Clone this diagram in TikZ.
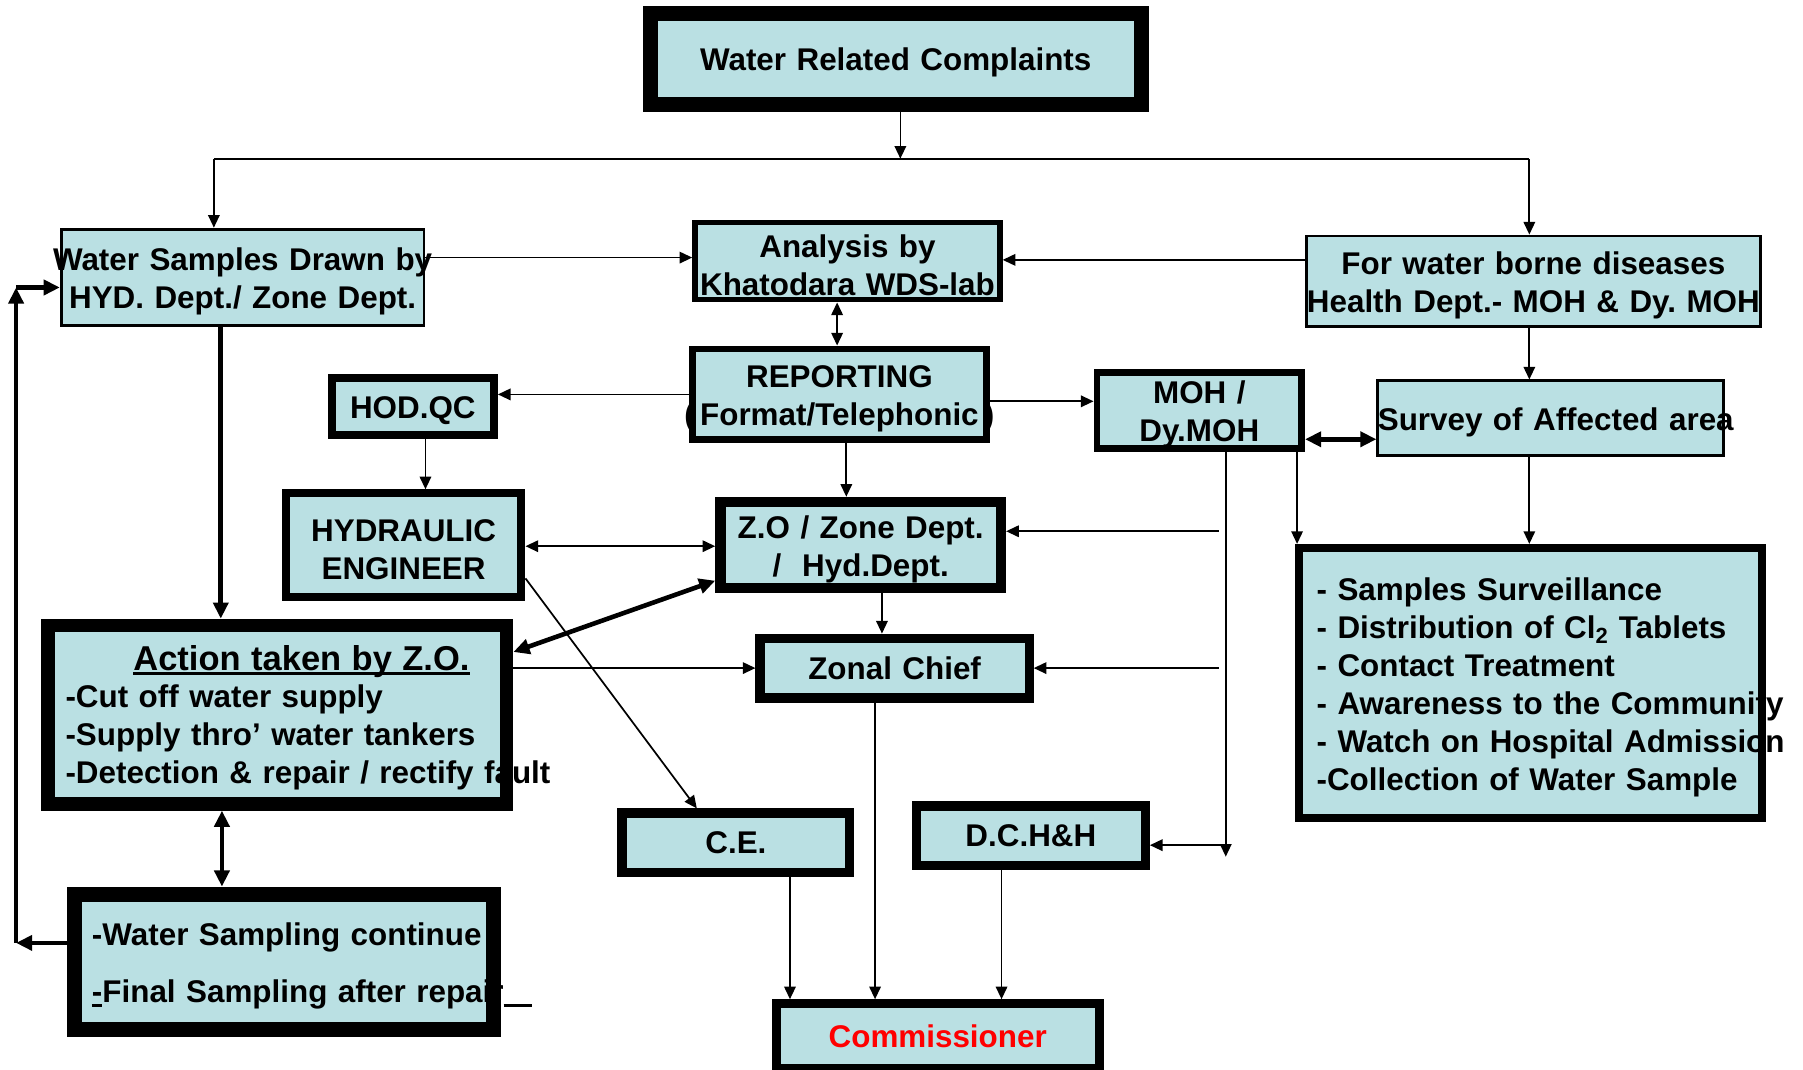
\documentclass[tikz,border=0pt]{standalone}
\usepackage{fontspec}
\setmainfont{Liberation Sans}
\usetikzlibrary{arrows.meta}
\definecolor{boxblue}{RGB}{186,224,227}
\frenchspacing
\newcommand{\regtext}{\fontsize{27.3pt}{33pt}\selectfont\bfseries}
\newcommand{\spill}[1]{\makebox[\hsize][c]{#1}}
\newcommand{\barunder}[1]{\leavevmode\setbox0\hbox{#1}\rlap{\rule[-4pt]{\wd0}{2.5pt}}\box0}
\tikzset{
  flowbase/.style={draw,fill=boxblue,align=center,inner xsep=0pt,inner ysep=0pt,font=\regtext},
  flowbox/.style={flowbase,execute at begin node={\rule{0pt}{27pt}}},
  thinbox/.style={flowbox,line width=2.5pt},
  heavybox/.style={flowbox,line width=#1},
  flatbox/.style={flowbase,line width=#1},
  listbox/.style={align=left,inner xsep=15.5pt},
  flowline/.style={line width=1.5pt},
  flowarrow/.style={-{Triangle[length=11pt,width=10pt]},line width=1.5pt},
  twoway/.style={{Triangle[length=11pt,width=10pt]}-{Triangle[length=11pt,width=10pt]},line width=1.5pt},
  heavyarrow/.style={-{Triangle[length=14pt,width=13pt]},line width=4pt},
  heavytwoway/.style={{Triangle[length=14pt,width=13pt]}-{Triangle[length=14pt,width=13pt]},line width=4pt}
}

\begin{document}
\begin{tikzpicture}[x=1pt,y=-1pt]
\useasboundingbox (0,0) rectangle (1568,930);
% boxes
\node[heavybox=13pt, text width=427pt, minimum height=79pt] (complaints) at (779,51) {Water Related Complaints};
\node[thinbox, text width=315.5pt, minimum height=83.5pt] (samples) at (211,241) {\spill{Water Samples Drawn by}\\HYD. Dept./ Zone Dept.};
\node[heavybox=5pt, text width=265pt, minimum height=67pt] (analysis) at (737,227) {Analysis by\\Khatodara WDS-lab};
\node[thinbox, text width=394.5pt, minimum height=78.5pt] (borne) at (1333.5,244.5) {\mbox{For water borne diseases}\\\spill{Health Dept.- MOH \& Dy. MOH}};
\node[heavybox=6pt, text width=256pt, minimum height=79pt] (reporting) at (730,343) {REPORTING\\\spill{(\,Format/Telephonic\,)}};
\node[heavybox=7pt, text width=141pt, minimum height=50pt] (hodqc) at (359,353.5) {HOD.QC};
\node[heavybox=7pt, text width=205pt, minimum height=90pt] (hydraulic) at (351,474) {HYDRAULIC\\ENGINEER};
\node[heavybox=9pt, text width=244pt, minimum height=75pt] (zone) at (748.5,474) {Z.O / Zone Dept.\\/~~Hyd.Dept.};
\node[heavybox=6pt, text width=178pt, minimum height=62pt] (moh) at (1043,357) {MOH /\\Dy.MOH};
\node[thinbox, text width=300.5pt, minimum height=64.5pt] (survey) at (1348.5,363.5) {\mbox{Survey of Affected area}};
\node[heavybox=12pt, listbox, text width=368pt, minimum height=155pt] (action) at (241,621.5) {\mbox{\hspace*{59pt}\fontsize{30pt}{33pt}\selectfont\barunder{Action taken by Z.O.}}\\\mbox{-Cut off water supply}\\\mbox{-Supply thro’ water tankers}\\\mbox{-Detection \& repair / rectify fault}};
\node[flatbox=8pt, text width=234pt, minimum height=52pt] (zonal) at (778,581) {Zonal Chief};
\node[heavybox=7pt, listbox, text width=372pt, minimum height=235pt] (surveil) at (1331,594) {\mbox{- Samples Surveillance}\\\mbox{- Distribution of Cl\textsubscript{2} Tablets}\\\mbox{- Contact Treatment}\\\mbox{- Awareness to the Community}\\\mbox{- Watch on Hospital Admission}\\\mbox{-Collection of Water Sample}};
\node[flatbox=8pt, text width=198pt, minimum height=52pt] (ce) at (640,733) {C.E.};
\node[flatbox=8pt, text width=199pt, minimum height=52pt] (dchh) at (896.5,727) {D.C.H\&H};
\node[heavybox=13pt, listbox, text width=334pt, minimum height=118pt] (sampling) at (247,836.5) {\mbox{-Water Sampling continue}\\[16pt]\mbox{\barunder{-}Final Sampling after repair\barunder{\hspace*{25pt}}}};
\node[flatbox=8pt, text=red, text width=281pt, minimum height=56pt] (commissioner) at (815.5,901) {Commissioner};
% free ends
\coordinate (busL) at (186,138);
\coordinate (busM) at (783,138);
\coordinate (busR) at (1330,138);
\coordinate (zoneTap) at (1060,462);
\coordinate (zonalTap) at (1060,581);
\coordinate (mohEnd) at (1066,745);
\coordinate (loopB) at (14,820);
\coordinate (loopT) at (14,250);
% connectors
\draw[flowarrow] (complaints.south -| busM) -- (busM);
\draw[flowline] (busL) -- (busR);
\draw[flowarrow] (busL) -- (samples.north -| busL);
\draw[flowarrow] (busR) -- (borne.north -| busR);
\draw[flowarrow] (samples.east |- 0,224) -- (analysis.west |- 0,224);
\draw[flowarrow] (borne.west |- 0,226) -- (analysis.east |- 0,226);
\draw[twoway] (analysis.south -| 728,0) -- (reporting.north -| 728,0);
\draw[flowarrow] (reporting.west |- 0,343) -- (hodqc.east |- 0,343);
\draw[flowarrow] (reporting.east |- 0,349) -- (moh.west |- 0,349);
\draw[flowarrow] (reporting.south -| 736,0) -- (zone.north -| 736,0);
\draw[flowarrow] (hodqc.south -| 370,0) -- (hydraulic.north -| 370,0);
\draw[twoway] (hydraulic.east |- 0,475) -- (zone.west |- 0,475);
\draw[flowarrow] (hydraulic.east |- 0,503) -- (ce.north -| 606,0);
\draw[heavytwoway] (zone.west |- 0,505) -- (action.east |- 0,567);
\draw[heavyarrow] (samples.south -| 192,0) -- (action.north -| 192,0);
\draw[flowarrow] (action.east |- 0,581) -- (zonal.west |- 0,581);
\draw[heavytwoway] (action.south -| 193,0) -- (sampling.north -| 193,0);
\draw[flowarrow] (zone.south -| 767,0) -- (zonal.north -| 767,0);
\draw[flowarrow] (zonal.south -| 761,0) -- (commissioner.north -| 761,0);
\draw[flowarrow] (ce.south -| 687,0) -- (commissioner.north -| 687,0);
\draw[flowarrow] (dchh.south -| 871,0) -- (commissioner.north -| 871,0);
\draw[flowarrow] (zoneTap) -- (zone.east |- zoneTap);
\draw[flowarrow] (zonalTap) -- (zonal.east |- zonalTap);
\draw[flowarrow] (moh.south -| mohEnd) -- (mohEnd);
\draw[flowarrow] (mohEnd |- 0,735) -- (dchh.east |- 0,735);
\draw[flowarrow] (moh.south -| 1128,0) -- (surveil.north -| 1128,0);
\draw[heavytwoway] (moh.east |- 0,382) -- (survey.west |- 0,382);
\draw[flowarrow] (borne.south -| 1330,0) -- (survey.north -| 1330,0);
\draw[flowarrow] (survey.south -| 1330,0) -- (surveil.north -| 1330,0);
\draw[heavyarrow] (sampling.west |- loopB) -- (loopB);
\draw[heavyarrow] (loopB) -- (loopT);
\draw[heavyarrow] (loopT) -- (samples.west |- loopT);
\end{tikzpicture}
\end{document}
